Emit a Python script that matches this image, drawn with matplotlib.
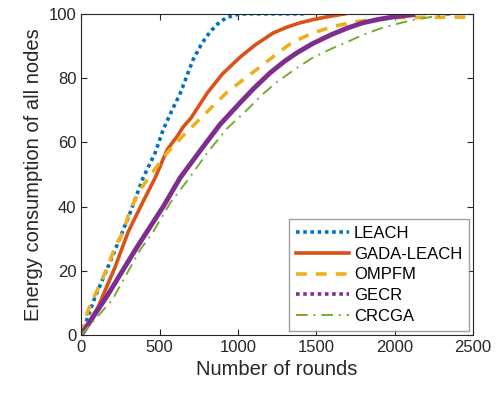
import matplotlib
matplotlib.use("Agg")
import matplotlib.pyplot as plt
from matplotlib.lines import Line2D

plt.rcParams['font.family'] = ['Liberation Sans', 'DejaVu Sans']

leach_x = [0, 89, 198, 261, 312, 395, 472, 523, 580, 631, 714, 770, 823, 870, 920, 970, 1010, 1060, 1420]
leach_y = [0, 11.8, 24.3, 31.8, 38.0, 48.9, 56.7, 63.9, 70.0, 75.1, 85.7, 90.8, 94.4, 96.8, 98.6, 99.5, 99.9, 100, 100]

gada_x = [0, 108, 217, 300, 400, 472, 548, 619, 651, 700, 804, 900, 1014, 1110, 1224, 1310, 1397, 1480, 1550, 1620, 1684]
gada_y = [0, 8.7, 21.2, 32.1, 42.0, 48.9, 57.6, 62.3, 64.8, 67.5, 75.3, 81.2, 86.5, 90.3, 94.0, 95.8, 97.2, 98.2, 98.9, 99.5, 100]

ompfm_x = [0, 45, 108, 166, 217, 268, 312, 376, 453, 548, 644, 740, 835, 931, 1040, 1142, 1250, 1352, 1480, 1600, 1760, 1900, 2015, 2200, 2500]
ompfm_y = [0, 7.8, 14.6, 20.9, 27.4, 32.1, 38.9, 45.2, 50.5, 56.7, 61.7, 66.4, 71.0, 75.6, 79.7, 83.5, 87.6, 91.3, 94.0, 96.0, 97.6, 98.4, 98.8, 98.9, 99.0]

gecr_x = [0, 170, 357, 523, 631, 778, 887, 1014, 1100, 1205, 1300, 1378, 1480, 1600, 1700, 1798, 1900, 2000, 2117]
gecr_y = [0, 12.5, 27.4, 39.9, 48.9, 58.6, 65.6, 72.3, 76.7, 81.6, 85.3, 87.9, 90.8, 93.6, 95.6, 97.2, 98.3, 99.1, 99.7]

crcga_x = [0, 198, 376, 459, 568, 695, 804, 931, 1059, 1150, 1250, 1378, 1480, 1600, 1696, 1800, 1907, 2000, 2117, 2230, 2353]
crcga_y = [0, 10.9, 26.5, 32.1, 41.1, 49.2, 56.7, 64.3, 70.1, 74.6, 78.8, 83.2, 86.4, 89.2, 91.2, 93.5, 95.4, 96.7, 98.1, 99.0, 99.7]

labels = ['LEACH', 'GADA-LEACH', 'OMPFM', 'GECR', 'CRCGA']
colors = ['#0072BD', '#D95319', '#EDB120', '#7E2F8E', '#77AC30']

fig = plt.figure(figsize=(5.01, 3.95), dpi=100)
ax = fig.add_axes([0.162, 0.152, 0.782, 0.813])

ls_leach = (0, (1, 1))
ls_ompfm = (0, (3, 2.5))
ls_crcga = (0, (6, 3, 1, 3))

ax.plot(leach_x, leach_y, color=colors[0], linestyle=ls_leach, lw=2.6)
ax.plot(gada_x, gada_y, color=colors[1], linestyle='-', lw=2.6)
ax.plot(ompfm_x, ompfm_y, color=colors[2], linestyle=ls_ompfm, lw=2.6)
ax.plot(gecr_x, gecr_y, color=colors[3], linestyle='-', lw=3.5)
ax.plot(crcga_x, crcga_y, color=colors[4], linestyle=ls_crcga, lw=1.4)

handles = [
    Line2D([], [], color=colors[0], linestyle=ls_leach, lw=2.6),
    Line2D([], [], color=colors[1], linestyle='-', lw=2.6),
    Line2D([], [], color=colors[2], linestyle=ls_ompfm, lw=2.6),
    Line2D([], [], color=colors[3], linestyle=ls_leach, lw=2.6),
    Line2D([], [], color=colors[4], linestyle=ls_crcga, lw=1.4),
]
leg = ax.legend(handles, labels, loc='lower right', fontsize=12, handlelength=3.2,
                frameon=True, fancybox=False, edgecolor='#888888', borderpad=0.4,
                labelspacing=0.35, handletextpad=0.3, borderaxespad=0.25)
leg.get_frame().set_linewidth(1.0)

ax.set_xlim(0, 2500)
ax.set_ylim(0, 100)
ax.set_xticks([0, 500, 1000, 1500, 2000, 2500])
ax.set_yticks([0, 20, 40, 60, 80, 100])
ax.tick_params(direction='in', top=True, right=True, labelsize=12, colors='#262626', length=4)
for s in ax.spines.values():
    s.set_color('#262626')
ax.set_xlabel('Number of rounds', fontsize=14.5, color='#262626')
ax.set_ylabel('Energy consumption of all nodes', fontsize=14.5, color='#262626')

fig.savefig('out.png', dpi=100)
